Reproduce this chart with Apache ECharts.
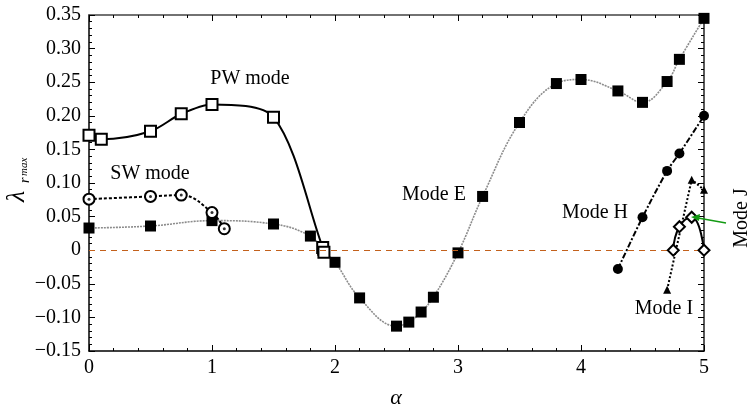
<!DOCTYPE html>
<html>
<head>
<meta charset="utf-8">
<script src="https://cdn.jsdelivr.net/npm/echarts@6/dist/echarts.min.js"></script>
<style>
  html, body { margin: 0; padding: 0; background: #fff; }
  #chart { width: 751px; height: 408px; }
</style>
</head>
<body>
<div id="chart"></div>
<script>
// Growth rate of the most unstable mode versus alpha, one curve per mode family.
const pwMode = [[0, 0.171], [0.1, 0.165], [0.5, 0.177], [0.75, 0.203], [1.0, 0.217], [1.5, 0.198], [1.9, 0.004], [1.91, -0.003]];
const swMode = [[0, 0.076], [0.5, 0.080], [0.75, 0.082], [1.0, 0.056], [1.1, 0.032]];
const modeE = [[0, 0.033], [0.5, 0.036], [1.0, 0.044], [1.5, 0.039], [1.8, 0.021], [1.9, 0.0], [2.0, -0.018],
  [2.2, -0.071], [2.5, -0.113], [2.6, -0.107], [2.7, -0.092], [2.8, -0.070], [3.0, -0.004], [3.2, 0.080],
  [3.5, 0.190], [3.8, 0.248], [4.0, 0.254], [4.3, 0.237], [4.5, 0.220], [4.7, 0.251], [4.8, 0.284], [5.0, 0.345]];
const modeH = [[4.3, -0.028], [4.5, 0.049], [4.7, 0.118], [4.8, 0.144], [5.0, 0.200]];
const modeI = [[4.7, -0.059], [4.9, 0.105], [5.0, 0.090]];
const modeJ = [[4.75, 0.0], [4.8, 0.035], [4.9, 0.049], [5.0, 0.0]];

const xTicks = { min: 0, max: 5, interval: 1 };
const yTicks = { min: -0.15, max: 0.35, interval: 0.05 };

const SERIF = 'Liberation Serif';
const chart = echarts.init(document.getElementById('chart'), null, { renderer: 'canvas' });

function yLabel(v) {
  if (Math.abs(v) < 1e-9) return '0';
  return (v < 0 ? '\u2212' : '') + Math.abs(v).toFixed(2);
}

function frameAxis(base, labels, lineColor) {
  return Object.assign({
    type: 'value',
    axisLine: { show: true, onZero: false, lineStyle: { color: lineColor, width: 1.5 } },
    axisTick: { show: true, inside: true, length: 6, lineStyle: { color: '#000', width: 1 } },
    minorTick: { show: true, splitNumber: 5, length: 3, lineStyle: { color: '#000', width: 1 } },
    splitLine: { show: false },
    minorSplitLine: { show: false },
    axisLabel: labels || { show: false }
  }, base);
}

function label(text, x, y, extra) {
  return Object.assign({
    type: 'text', x: x, y: y,
    style: { text: text, font: '20px Liberation Serif', fill: '#000', align: 'center', verticalAlign: 'middle' }
  }, extra || {});
}

const option = {
  animation: false,
  backgroundColor: '#fff',
  grid: { left: 89, right: 47, top: 15, bottom: 57, containLabel: false },
  xAxis: [
    frameAxis({ position: 'bottom', min: xTicks.min, max: xTicks.max, interval: xTicks.interval },
      { show: true, color: '#000', fontFamily: SERIF, fontSize: 20, margin: 7 }, '#000'),
    frameAxis({ position: 'top', min: xTicks.min, max: xTicks.max, interval: xTicks.interval }, null, '#444')
  ],
  yAxis: [
    frameAxis({ position: 'left', min: yTicks.min, max: yTicks.max, interval: yTicks.interval },
      { show: true, color: '#000', fontFamily: SERIF, fontSize: 20, margin: 8, formatter: yLabel }, '#000'),
    frameAxis({ position: 'right', min: yTicks.min, max: yTicks.max, interval: yTicks.interval }, null, '#222')
  ],
  series: [
    {
      name: 'Mode E', type: 'line', data: modeE, smooth: 0.4, clip: false, z: 2,
      symbol: 'rect', symbolSize: 11,
      lineStyle: { color: '#8c8c8c', width: 1.6, type: [2, 1] },
      itemStyle: { color: '#000' },
      markLine: {
        silent: true, symbol: 'none', animation: false,
        label: { show: false },
        lineStyle: { color: '#c3611c', width: 1, type: [6, 5] },
        data: [{ yAxis: 0 }]
      }
    },
    {
      name: 'PW mode', type: 'line', data: pwMode, smooth: 0.3, clip: false, z: 4,
      symbol: 'rect', symbolSize: 11,
      lineStyle: { color: '#000', width: 2 },
      itemStyle: { color: '#fff', borderColor: '#000', borderWidth: 2 }
    },
    {
      name: 'SW mode', type: 'line', data: swMode, smooth: 0.4, clip: false, z: 4,
      symbol: 'circle', symbolSize: 11,
      lineStyle: { color: '#000', width: 2, type: [3, 2] },
      itemStyle: { color: '#fff', borderColor: '#000', borderWidth: 2 }
    },
    {
      name: 'SW mode centre', type: 'scatter', data: swMode, clip: false, z: 5,
      symbol: 'circle', symbolSize: 3, itemStyle: { color: '#000' }
    },
    {
      name: 'Mode H', type: 'line', data: modeH, smooth: 0.3, clip: false, z: 4,
      symbol: 'circle', symbolSize: 10,
      lineStyle: { color: '#000', width: 2, type: [6, 2, 2, 2] },
      itemStyle: { color: '#000' }
    },
    {
      name: 'Mode I', type: 'line', data: modeI, smooth: false, clip: false, z: 4,
      symbol: 'triangle', symbolSize: 8,
      lineStyle: { color: '#000', width: 2, type: [2, 2] },
      itemStyle: { color: '#000' }
    },
    {
      name: 'Mode J', type: 'line', data: modeJ, smooth: 0.5, clip: false, z: 6,
      symbol: 'diamond', symbolSize: 11,
      lineStyle: { color: '#000', width: 2 },
      itemStyle: { color: '#fff', borderColor: '#000', borderWidth: 2 }
    }
  ],
  graphic: [
    label('PW mode', 250, 79),
    label('SW mode', 150, 174),
    label('Mode E', 434, 195),
    label('Mode H', 595, 213),
    label('Mode I', 664, 309),
    label('Mode J', 742, 218, { rotation: Math.PI / 2 }),
    // green pointer to the Mode J branch
    { type: 'line', shape: { x1: 726, y1: 223, x2: 698, y2: 218 }, style: { stroke: '#139a13', lineWidth: 1.5 }, z: 10 },
    { type: 'polygon', shape: { points: [[691, 217], [700, 214], [699, 221]] }, style: { fill: '#139a13' }, z: 10 },
    // x-axis title
    { type: 'text', x: 396, y: 398, style: { text: '\u03b1', font: 'italic 22px Liberation Serif', fill: '#000', align: 'center', verticalAlign: 'middle' } },
    // y-axis title: lambda with subscript r, sub-subscript max (reads bottom to top)
    {
      type: 'group', x: 25, y: 204, rotation: Math.PI / 2,
      children: [
        { type: 'text', x: 2, y: -8, style: { text: '\u03bb', font: 'italic 26px Liberation Serif', fill: '#000', verticalAlign: 'middle' } },
        { type: 'text', x: 21, y: 0, style: { text: 'r', font: 'italic 14px Liberation Serif', fill: '#000', verticalAlign: 'middle' } },
        { type: 'text', x: 28, y: -1, style: { text: 'max', font: 'italic 11px Liberation Serif', fill: '#000', verticalAlign: 'middle' } }
      ]
    }
  ]
};

chart.setOption(option);
</script>
</body>
</html>
